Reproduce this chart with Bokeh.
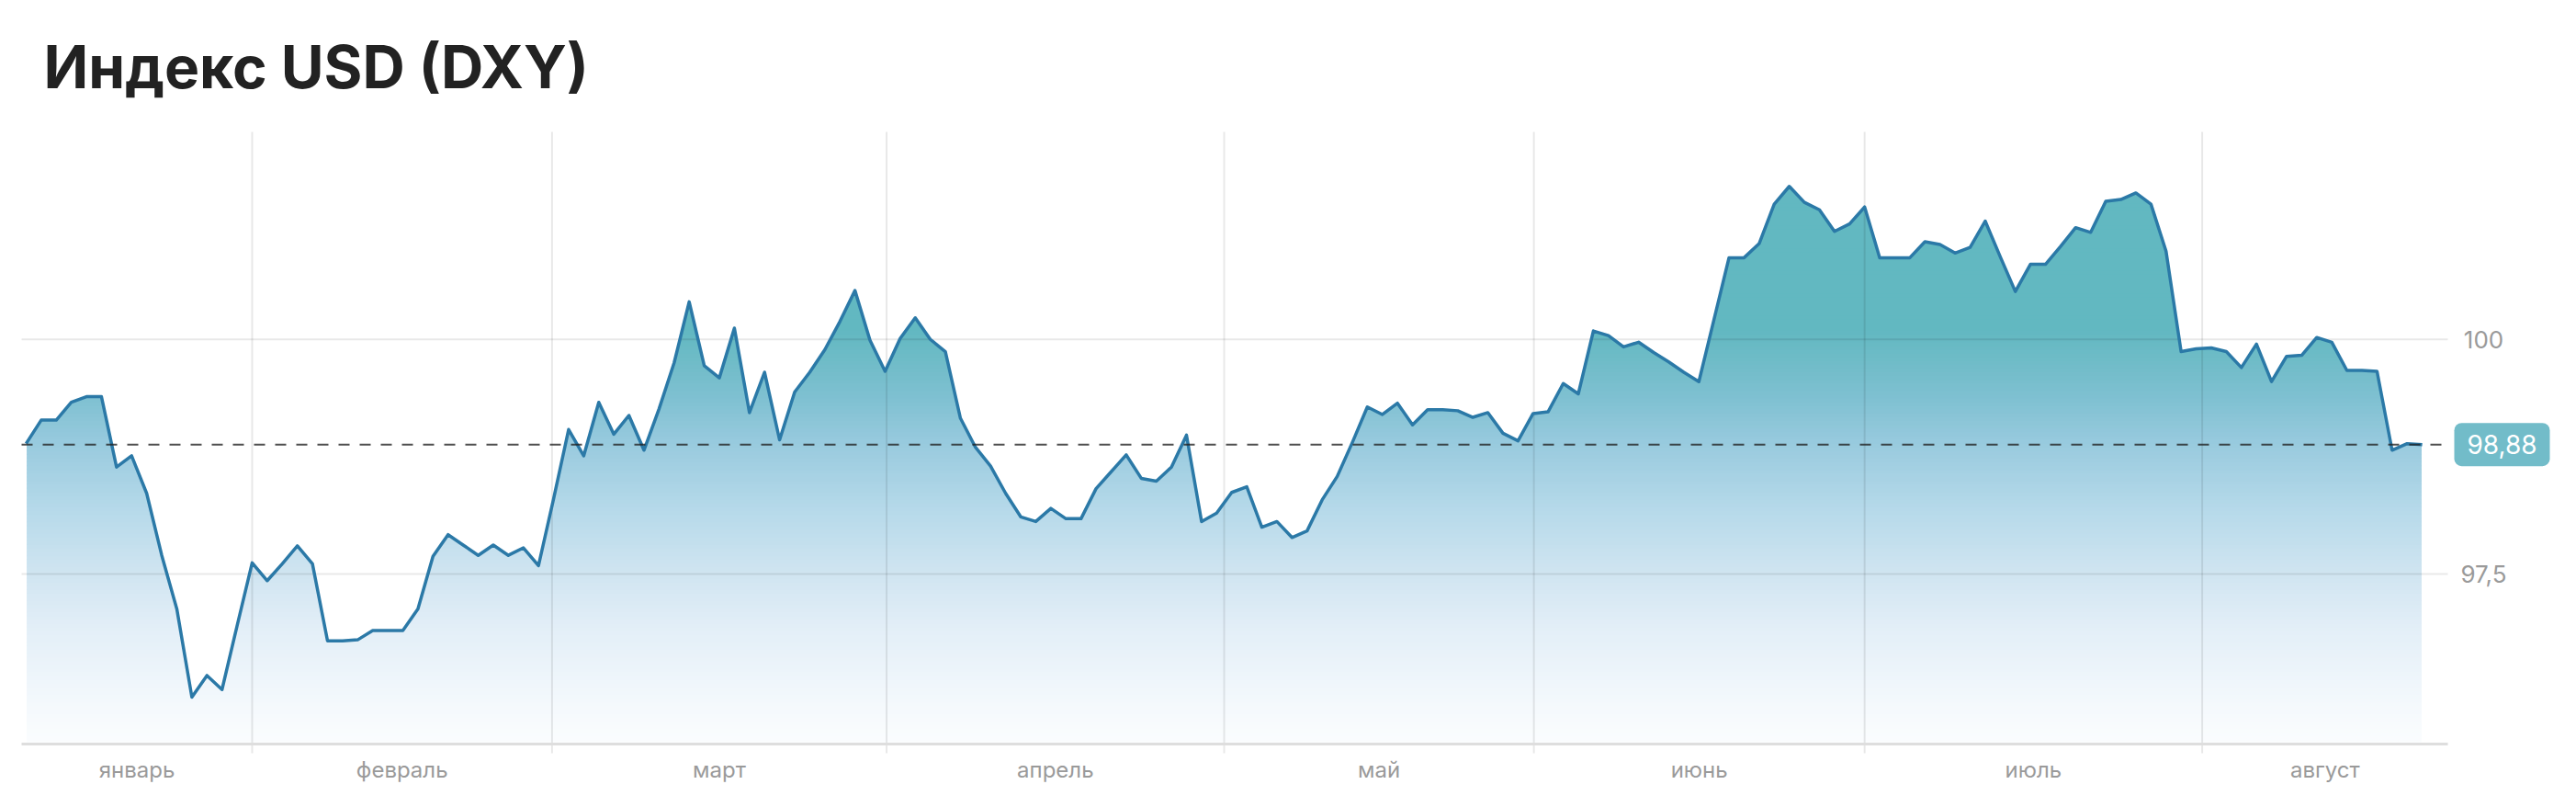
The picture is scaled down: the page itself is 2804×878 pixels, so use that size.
import numpy as np
from bokeh.plotting import figure
from bokeh.models import Range1d
from bokeh.core.properties import value
from bokeh.embed import file_html
from bokeh.resources import INLINE

# ---------------- data ----------------
title_text = "Индекс USD (DXY)"
month_names = ["январь", "февраль", "март", "апрель", "май", "июнь", "июль", "август"]
# position (in point index) of the first point of each month from February on
month_starts = [15, 34.9, 57.1, 79.5, 100.05, 122.0, 144.4]

dxy = [
    98.89, 99.14, 99.14, 99.33, 99.39, 99.39, 98.64, 98.76, 98.36, 97.70,
    97.13, 96.19, 96.42, 96.27, 96.95, 97.62, 97.43, 97.61, 97.80, 97.61,
    96.79, 96.79, 96.80, 96.90, 96.90, 96.90, 97.13, 97.69, 97.92, 97.81,
    97.70, 97.81, 97.70, 97.78, 97.59, 98.30, 99.04, 98.76, 99.33, 98.99,
    99.19, 98.82, 99.26, 99.75, 100.40, 99.72, 99.59, 100.12, 99.22, 99.65,
    98.93, 99.44, 99.65, 99.89, 100.19, 100.52, 99.99, 99.66, 100.01, 100.23,
    100.00, 99.87, 99.16, 98.85, 98.65, 98.36, 98.11, 98.06, 98.20, 98.09,
    98.09, 98.41, 98.59, 98.77, 98.52, 98.49, 98.64, 98.98, 98.06, 98.15,
    98.37, 98.43, 98.00, 98.06, 97.89, 97.96, 98.29, 98.54, 98.90, 99.28,
    99.20, 99.32, 99.09, 99.25, 99.25, 99.24, 99.17, 99.22, 99.00, 98.92,
    99.21, 99.23, 99.53, 99.42, 100.09, 100.04, 99.92, 99.97, 99.86, 99.76,
    99.65, 99.55, 100.21, 100.87, 100.87, 101.02, 101.44, 101.63, 101.46, 101.38,
    101.15, 101.23, 101.41, 100.87, 100.87, 100.87, 101.04, 101.01, 100.92, 100.98,
    101.26, 100.88, 100.51, 100.80, 100.80, 100.99, 101.19, 101.14, 101.47, 101.49,
    101.56, 101.44, 100.94, 99.87, 99.90, 99.91, 99.87, 99.70, 99.95, 99.55,
    99.82, 99.83, 100.02, 99.97, 99.67, 99.67, 99.66, 98.82, 98.89, 98.88,
]
last_value = 98.88
last_label = "98,88"
y_ticks = [97.5, 100]
y_tick_labels = ["97,5", "100"]

# ---------------- layout / style ----------------
W, H = 2788, 862
# plot area (in figure pixels): left 23, right 2664, top 143, bottom 809
FL, FR, FT, FB = 23, 2664, 143, 809
X0, X1 = -0.3, 160.7           # index range covered by the plot area
Y0, Y1 = 95.69, 102.21         # value range covered by the plot area
PX = (FR - FL) / (X1 - X0)     # pixels per index step
PY = (FB - FT) / (Y1 - Y0)     # pixels per value unit
XS = X0 - FL / PX
XE = XS + W / PX
YE = Y1 + FT / PY
YS = YE - H / PY

idx = list(range(len(dxy)))

FONT = value("Inter")
GREY = "#9a9a9a"
LINE = "#2b79a7"
GRID = "#000000"

p = figure(width=W, height=H,
           x_range=Range1d(XS, XE), y_range=Range1d(YS, YE),
           x_axis_location=None, y_axis_location=None,
           output_backend="svg", toolbar_location=None, min_border=0)
p.grid.visible = False
p.outline_line_color = None
p.background_fill_color = "white"
p.border_fill_color = "white"

# vertical gradient under the curve: colour bands, then a white mask above the curve
stops = [
    (95.70, (0xfb, 0xfd, 0xfe)),
    (96.16, (0xf3, 0xf8, 0xfc)),
    (96.95, (0xe2, 0xee, 0xf7)),
    (97.50, (0xd0, 0xe5, 0xf1)),
    (98.16, (0xb7, 0xda, 0xea)),
    (98.90, (0x98, 0xca, 0xde)),
    (99.35, (0x80, 0xc1, 0xd2)),
    (99.75, (0x70, 0xbc, 0xc8)),
    (100.10, (0x62, 0xb8, 0xc1)),
    (103.00, (0x62, 0xb8, 0xc1)),
]
sv = np.array([s[0] for s in stops])
sc = np.array([s[1] for s in stops], dtype=float)

top_fill = max(dxy) + 0.1
step = 0.04
levels = np.arange(Y0, top_fill + step, step)
mids = (levels[:-1] + levels[1:]) / 2
cols = []
for m in mids:
    rgb = [np.interp(m, sv, sc[:, k]) for k in range(3)]
    cols.append("#%02x%02x%02x" % tuple(int(round(c)) for c in rgb))

p.quad(left=idx[0] + 0.04, right=idx[-1] - 0.04, bottom=levels[:-1], top=levels[1:] + 0.012,
       fill_color=cols, line_color=None)
p.varea(x=idx, y1=dxy, y2=top_fill + 0.5, fill_color="white")

# grid (drawn over the fill, translucent)
tick_len = 10 / PY
p.segment(x0=month_starts, y0=[Y0 - tick_len] * len(month_starts),
          x1=month_starts, y1=[Y1] * len(month_starts),
          line_color=GRID, line_alpha=0.09, line_width=2)
p.segment(x0=[X0] * len(y_ticks), y0=y_ticks, x1=[X1] * len(y_ticks), y1=y_ticks,
          line_color=GRID, line_alpha=0.09, line_width=2)

# x axis line
p.segment(x0=[X0], y0=[Y0], x1=[X1], y1=[Y0], line_color="#dedede", line_width=3)

# series line
p.line(idx, dxy, line_color=LINE, line_width=3.5, line_join="round")

# dashed last-value line
p.segment(x0=[X0], y0=[last_value], x1=[X1], y1=[last_value],
          line_color="#222222", line_alpha=0.8, line_width=2, line_dash="12 11")

# month labels centred between month boundaries
bounds = [X0] + month_starts + [X1]
label_pos = [(bounds[i] + bounds[i + 1]) / 2 for i in range(len(month_names))]
p.text(x=label_pos, y=[Y0 - 28 / PY] * len(month_names), text=month_names,
       text_font=FONT, text_font_size="24px", text_color=GREY,
       text_align="center", text_baseline="middle")

# right tick labels
p.text(x=[X1 + 39 / PX] * len(y_ticks), y=y_ticks, text=y_tick_labels,
       text_font=FONT, text_font_size="26px", text_color=GREY,
       text_align="center", text_baseline="middle")

# value badge
bx0, bx1 = X1 + 7 / PX, X1 + 111 / PX
bh = 23.5 / PY
try:
    p.quad(left=[bx0], right=[bx1], bottom=[last_value - bh], top=[last_value + bh],
           fill_color="#72bcc9", line_color=None, border_radius=8)
except Exception:
    p.quad(left=[bx0], right=[bx1], bottom=[last_value - bh], top=[last_value + bh],
           fill_color="#72bcc9", line_color=None)
p.text(x=[(bx0 + bx1) / 2], y=[last_value], text=[last_label],
       text_font=FONT, text_font_size="28px", text_color="white",
       text_align="center", text_baseline="middle")

# title
p.text(x=[X0 + 24 / PX], y=[Y1 + 71 / PY], text=[title_text],
       text_font=FONT, text_font_size="64px", text_font_style="bold",
       text_color="#222222", text_align="left", text_baseline="alphabetic")

open("out.html", "w").write(file_html(p, INLINE))
